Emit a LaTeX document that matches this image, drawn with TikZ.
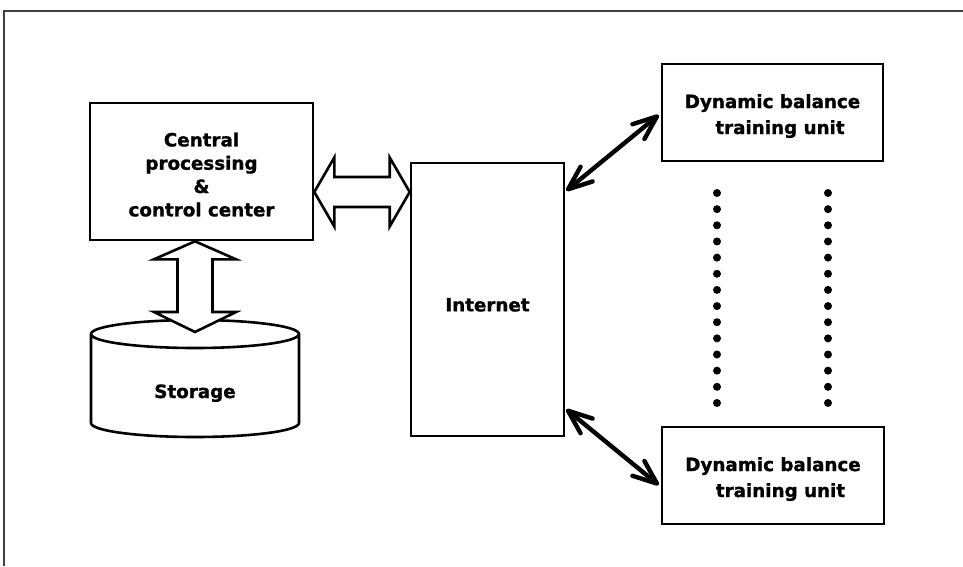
\documentclass[tikz,border=0pt]{standalone}
\usepackage{fontspec}
\setmainfont{DejaVu Sans}[BoldFeatures={FakeBold=1.2}]
\usetikzlibrary{arrows.meta,calc}

\begin{document}
\begin{tikzpicture}[x=1pt,y=1pt]
	\tikzstyle{every node}+=[inner sep=0pt, font=\fontsize{18.3}{23.3}\selectfont\bfseries]
	\tikzstyle{unitbox}=[draw=black, line width=2.6pt, align=center]
	\tikzstyle{blockarrow}=[draw=black, line width=2.6pt, fill=white, line join=miter]
	\tikzstyle{link}=[black, line width=4.4pt, line cap=round,
		{Straight Barb[length=24pt,width=19pt,round]}-{Straight Barb[length=24pt,width=19pt,round]}]
	\useasboundingbox (0,0) rectangle (963,-566);
	\draw [black!75, line width=1.4pt] (4,-566) -- (4,-11) -- (963,-11);
	% boxes
	\node [unitbox, minimum width=223, minimum height=137] (cpc) at (201.5,-171.5) {\rule{0pt}{20pt}Central\\processing\\\&\\control center};
	\node [unitbox, minimum width=153, minimum height=273, text height=24pt] (inet) at (487.5,-299.5) {Internet};
	\node [unitbox, minimum width=221, minimum height=97] (dbtu1) at (772.5,-112.5) {\rule{0pt}{21pt}Dynamic balance\\[2.7pt]\hspace*{15pt}training unit};
	\node [unitbox, minimum width=222, minimum height=97] (dbtu2) at (773,-475.5) {\rule{0pt}{21pt}Dynamic balance\\[2.7pt]\hspace*{15pt}training unit};
	% storage
	\draw [black, line width=2.6pt, fill=white] (91,-334) -- (91,-423) arc[start angle=180, end angle=360, x radius=104, y radius=14] -- (299,-334) arc[start angle=0, end angle=180, x radius=104, y radius=14] -- cycle;
	\draw [black, line width=2.6pt] (91,-334) arc[start angle=180, end angle=360, x radius=104, y radius=14];
	\coordinate (stotop) at (195,-334);
	\node [anchor=base] (sto) at (195,-398) {Storage};
	% block arrows
	\coordinate (hl) at ($(cpc.east)+(0,-20.5)$);
	\coordinate (hr) at (inet.west |- hl);
	\draw [blockarrow] (hl) -- ++(20,34.5) -- ++(0,-19.5) -- ($(hr)+(-20,15)$) -- ++(0,19.5) -- (hr) -- ++(-20,-34.5) -- ++(0,19.5) -- ($(hl)+(20,-15)$) -- ++(0,-19.5) -- cycle;
	\coordinate (vt) at ($(cpc.south)+(-6.5,0)$);
	\coordinate (vb) at ($(stotop)+(0,2)$);
	\draw [blockarrow] (vt) -- ++(-41,-18) -- ++(23.5,0) -- ($(vb)+(-17.5,20)$) -- ++(-23.5,0) -- (vb) -- ++(41,20) -- ++(-23.5,0) -- ($(vt)+(17.5,-18)$) -- ++(23.5,0) -- cycle;
	% links
	\draw [link] ($(inet.north east)+(1,-29)$) -- ($(dbtu1.west)+(-2,-2.5)$);
	\draw [link] ($(inet.south east)+(1,28)$) -- ($(dbtu2.west)+(-2,-9.5)$);
	% dots
	\foreach \i in {0,...,13} {
		\fill [black] (717,{-193-16.15*\i}) circle (4);
		\fill [black] (828,{-193-16.15*\i}) circle (4);
	}
\end{tikzpicture}
\end{document}
